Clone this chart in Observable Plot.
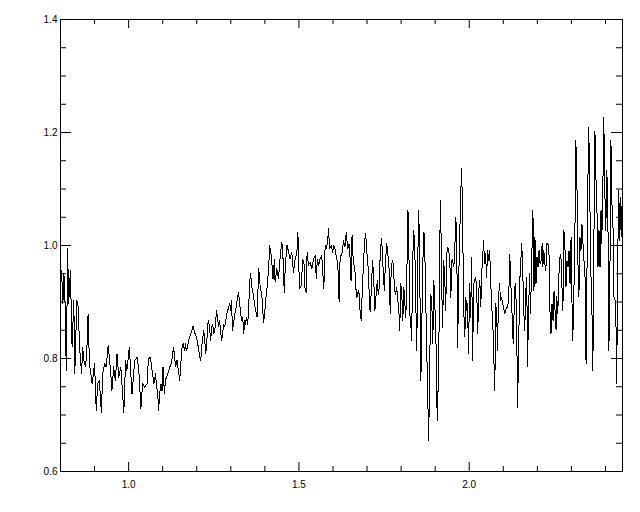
<!DOCTYPE html>
<html><head><meta charset="utf-8">
<script src="https://cdn.jsdelivr.net/npm/d3@7"></script>
<script src="https://cdn.jsdelivr.net/npm/@observablehq/plot@0.6"></script>
<style>body{margin:0;background:#fff}</style>
</head><body><div id="chart"></div>
<script>
// [wavelength, flux]
const spectrum = [
[0.800,0.930],[0.803,0.956],[0.807,0.897],[0.810,0.950],[0.813,0.909],[0.817,0.779],[0.821,0.994],[0.824,0.897],[0.829,0.956],[0.834,0.820],
[0.839,0.903],[0.842,0.773],[0.848,0.903],[0.852,0.891],[0.856,0.820],[0.862,0.773],[0.865,0.820],[0.869,0.796],[0.873,0.785],[0.877,0.808],
[0.881,0.879],[0.885,0.791],[0.889,0.773],[0.893,0.755],[0.900,0.791],[0.905,0.708],[0.909,0.755],[0.914,0.761],[0.920,0.705],[0.924,0.773],
[0.930,0.791],[0.934,0.785],[0.940,0.823],[0.947,0.779],[0.951,0.743],[0.956,0.785],[0.961,0.761],[0.966,0.808],[0.971,0.767],[0.977,0.785],
[0.986,0.705],[0.991,0.797],[0.995,0.779],[1.002,0.820],[1.010,0.737],[1.018,0.797],[1.025,0.802],[1.030,0.779],[1.036,0.711],[1.041,0.755],
[1.047,0.749],[1.054,0.755],[1.058,0.797],[1.061,0.802],
[1.064,0.802],[1.069,0.779],[1.074,0.755],[1.079,0.773],[1.082,0.749],[1.085,0.743],[1.088,0.708],[1.091,0.738],[1.095,0.755],[1.098,0.743],
[1.101,0.785],[1.105,0.738],[1.108,0.761],[1.111,0.767],[1.115,0.773],[1.118,0.779],[1.121,0.785],[1.125,0.791],[1.127,0.797],[1.132,0.820],
[1.135,0.802],[1.138,0.785],[1.142,0.797],[1.146,0.779],[1.150,0.761],[1.154,0.797],[1.157,0.820],[1.160,0.826],[1.164,0.814],[1.167,0.826],
[1.169,0.814],[1.173,0.820],[1.176,0.832],[1.179,0.838],[1.183,0.844],[1.186,0.850],[1.189,0.858],[1.192,0.850],[1.195,0.844],[1.199,0.838],
[1.203,0.826],[1.206,0.814],[1.209,0.802],[1.212,0.797],[1.214,0.820],[1.217,0.832],[1.220,0.850],[1.223,0.838],[1.226,0.808],[1.229,0.820],
[1.232,0.861],[1.235,0.867],[1.238,0.850],[1.241,0.832],[1.244,0.856],[1.247,0.861],[1.250,0.844],[1.253,0.850],[1.255,0.861],[1.258,0.885],
[1.261,0.873],[1.264,0.856],[1.267,0.867],[1.270,0.850],[1.273,0.832],[1.276,0.844],[1.279,0.861],[1.282,0.856],[1.285,0.867],[1.288,0.879],
[1.291,0.885],[1.294,0.891],[1.297,0.897],[1.300,0.885],[1.302,0.903],[1.305,0.850],[1.308,0.861],[1.312,0.879],[1.316,0.891],[1.320,0.909],
[1.323,0.917],[1.326,0.897],[1.329,0.879],[1.332,0.867],[1.335,0.873],[1.338,0.844],[1.341,0.867],[1.343,0.861],[1.346,0.873],[1.349,0.861],
[1.352,0.879],[1.355,0.932],[1.358,0.950],[1.362,0.926],[1.367,0.909],
[1.372,0.888],[1.377,0.873],[1.382,0.959],[1.386,0.929],[1.391,0.912],[1.396,0.864],[1.399,0.876],[1.403,0.906],[1.407,0.929],[1.411,0.959],
[1.414,1.000],[1.419,0.982],[1.424,0.941],[1.428,0.976],[1.430,0.935],[1.435,0.959],[1.440,0.941],[1.443,0.965],[1.446,0.988],[1.450,1.006],
[1.453,0.982],[1.457,0.917],[1.460,0.965],[1.465,1.000],[1.470,0.988],[1.474,0.976],[1.479,0.988],[1.484,0.953],[1.489,0.976],[1.494,0.988],
[1.497,1.024],[1.499,0.976],[1.502,0.923],[1.507,0.929],[1.511,0.976],[1.516,0.965],[1.518,0.923],[1.521,0.917],[1.524,0.988],[1.528,0.965],
[1.533,0.970],[1.538,0.959],[1.543,0.976],[1.548,0.982],[1.551,0.941],[1.554,0.976],[1.558,0.965],[1.562,0.976],[1.567,0.982],[1.570,0.953],
[1.573,0.923],[1.577,1.000],[1.580,0.994],[1.584,1.006],[1.587,1.030],[1.590,0.994],[1.595,1.000],[1.599,0.988],[1.602,1.000],[1.606,0.994],
[1.611,0.976],[1.614,0.970],[1.618,0.900],
[1.621,0.979],[1.626,0.985],[1.631,1.009],[1.635,0.997],[1.639,1.024],[1.643,0.994],[1.647,1.003],[1.650,0.979],[1.653,0.938],[1.656,1.018],
[1.660,0.967],[1.664,0.962],[1.667,0.926],[1.670,0.908],[1.674,0.920],[1.677,0.914],[1.680,0.879],[1.683,0.867],[1.686,0.920],[1.690,0.973],
[1.693,1.009],[1.696,1.021],[1.699,0.991],[1.703,0.962],[1.706,0.920],[1.709,0.882],[1.713,0.926],[1.716,0.973],[1.719,0.950],[1.723,0.885],
[1.726,0.908],[1.730,0.938],[1.733,0.914],[1.736,0.926],[1.738,0.973],[1.742,1.012],[1.745,0.991],[1.748,0.944],[1.751,0.920],[1.754,0.973],
[1.758,1.003],[1.761,0.985],[1.765,0.956],[1.768,0.879],[1.771,0.962],[1.775,0.973],[1.778,0.962],[1.780,0.926],[1.783,0.914],[1.787,0.926],
[1.790,0.903],[1.793,0.891],[1.796,0.850],[1.799,0.932],[1.802,0.914],[1.805,0.867],[1.808,0.926],[1.811,0.897],[1.814,0.873],[1.817,0.956],
[1.820,1.062],[1.822,1.038],[1.825,0.879],[1.828,0.867],[1.831,0.832],[1.834,0.973],[1.837,1.026],[1.840,1.003],[1.843,0.903],[1.846,0.814],
[1.849,0.979],[1.852,1.062],[1.855,0.938],[1.858,0.761],[1.861,0.867],[1.864,0.973],[1.867,1.024],[1.869,1.009],[1.872,0.914],[1.875,0.826],
[1.878,0.737],[1.881,0.655],[1.884,0.785],[1.887,0.914],[1.890,0.903],[1.893,0.826],[1.896,0.938],[1.899,0.897],
[1.903,0.814],[1.906,0.690],[1.909,0.755],[1.911,0.820],[1.913,0.991],[1.916,1.080],[1.919,0.932],[1.922,0.855],[1.925,0.973],[1.928,0.944],
[1.931,0.885],[1.934,0.985],[1.937,0.997],[1.940,0.991],[1.943,0.973],[1.946,0.908],[1.949,0.973],[1.951,0.976],[1.954,0.962],[1.957,0.973],
[1.960,1.050],[1.963,1.027],[1.966,0.820],[1.969,0.938],[1.972,1.015],[1.975,1.091],[1.978,1.136],[1.981,1.021],[1.984,0.885],[1.987,0.838],
[1.990,0.908],[1.993,0.885],[1.995,0.897],[1.998,0.808],[2.001,0.932],[2.004,0.873],[2.007,0.979],[2.010,0.796],[2.013,0.932],[2.016,0.938],
[2.019,0.944],[2.022,0.920],[2.025,0.844],[2.028,0.920],[2.031,0.938],[2.034,0.891],[2.037,0.956],[2.039,0.973],[2.042,1.009],[2.045,0.968],
[2.048,0.985],[2.051,0.944],[2.054,0.991],[2.057,0.973],[2.060,0.991],[2.063,0.938],[2.066,0.891],[2.069,0.867],[2.072,0.808],[2.075,0.743],
[2.078,0.897],[2.081,0.873],[2.083,0.814],[2.086,0.908],[2.089,0.932],[2.092,0.903],[2.095,0.908],[2.098,0.897],[2.101,0.891],[2.104,0.879],
[2.107,0.885],[2.110,0.891],[2.113,0.891],[2.116,0.908],[2.119,0.985],[2.122,0.932],[2.125,0.897],[2.127,0.844],[2.130,0.826],[2.133,0.926],
[2.136,0.932],[2.139,0.873],[2.142,0.714],[2.145,0.814],[2.148,0.932],[2.151,0.968],[2.154,1.003],[2.157,0.962],[2.160,0.885],[2.163,0.850],
[2.166,0.920],[2.169,0.944],[2.171,0.785],[2.174,0.873],[2.177,0.950],[2.180,0.879],[2.183,0.962],
[2.187,1.062],[2.190,0.920],[2.193,1.015],[2.196,0.932],[2.199,0.979],[2.202,0.962],[2.205,0.991],[2.208,0.968],[2.211,0.973],[2.214,1.003],
[2.216,0.962],[2.219,0.991],[2.222,0.968],[2.225,0.956],[2.228,1.003],[2.231,1.003],[2.234,0.991],[2.237,0.885],[2.240,0.844],[2.243,0.897],
[2.246,0.867],[2.249,0.920],[2.252,0.885],[2.255,0.850],[2.257,0.909],[2.260,0.879],[2.263,0.944],[2.266,0.979],[2.269,0.985],[2.272,0.932],
[2.275,0.885],[2.278,1.027],[2.281,0.997],[2.284,0.926],[2.287,0.973],[2.290,0.962],[2.293,0.991],[2.296,0.932],[2.299,1.015],[2.301,0.920],
[2.304,0.832],[2.307,0.909],[2.310,1.003],[2.313,1.186],[2.316,1.121],[2.319,0.973],[2.322,0.909],[2.325,1.015],[2.328,0.991],[2.331,1.038],
[2.334,1.003],[2.337,0.973],[2.340,0.944],[2.343,0.791],[2.345,0.909],[2.348,1.097],[2.351,1.209],[2.354,1.085],[2.357,0.956],[2.360,0.897],
[2.363,0.779],[2.366,1.003],[2.369,1.203],[2.372,1.121],[2.375,1.062],[2.378,0.962],[2.381,1.027],[2.384,0.962],[2.387,1.062],[2.389,1.003],
[2.392,1.085],[2.395,1.227],[2.398,1.097],[2.401,1.027],[2.404,1.133],[2.407,1.062],[2.410,0.814],[2.413,0.944],[2.416,1.186],[2.419,1.074],
[2.422,1.038],[2.425,0.909],[2.428,0.903],[2.431,0.855],[2.433,0.755],[2.436,0.979],[2.439,1.097],[2.442,1.009],[2.445,1.085],[2.448,1.015]
];
const yMajor = [0.6, 0.8, 1.0, 1.2, 1.4];
const yMinor = [0.65, 0.7, 0.75, 0.85, 0.9, 0.95, 1.05, 1.1, 1.15, 1.25, 1.3, 1.35];
const xMajor = [1.0, 1.5, 2.0];
const xMinor = [0.9, 1.1, 1.2, 1.3, 1.4, 1.6, 1.7, 1.8, 1.9, 2.1, 2.2, 2.3, 2.4];

const W = 640, H = 512, mL = 60, mR = 18, mT = 19, mB = 41;
const pw = W - mL - mR, ph = H - mT - mB;
const fmt = d3.format(".1f");

const chart = Plot.plot({
  width: W, height: H,
  marginLeft: mL, marginRight: mR, marginTop: mT, marginBottom: mB,
  style: {fontFamily: "'Liberation Sans', Arial, sans-serif", fontSize: "10px", color: "#000", background: "#fff"},
  x: {domain: [0.8, 2.45]},
  y: {domain: [0.6, 1.4]},
  marks: [
    Plot.line(spectrum, {x: d => d[0], y: d => d[1], stroke: "#000", strokeWidth: 1, clip: true, shapeRendering: "crispEdges"}),
    Plot.frame({stroke: "#000", strokeWidth: 1}),
    // inward ticks, left & right
    Plot.tickY(yMajor, {y: d => d, stroke: "#000", insetRight: pw - 11}),
    Plot.tickY(yMinor, {y: d => d, stroke: "#000", insetRight: pw - 6}),
    Plot.tickY(yMajor, {y: d => d, stroke: "#000", insetLeft: pw - 11}),
    Plot.tickY(yMinor, {y: d => d, stroke: "#000", insetLeft: pw - 6}),
    // inward ticks, bottom & top
    Plot.tickX(xMajor, {x: d => d, stroke: "#000", insetTop: ph - 9}),
    Plot.tickX(xMinor, {x: d => d, stroke: "#000", insetTop: ph - 5}),
    Plot.tickX(xMajor, {x: d => d, stroke: "#000", insetBottom: ph - 9}),
    Plot.tickX(xMinor, {x: d => d, stroke: "#000", insetBottom: ph - 5}),
    Plot.axisY({ticks: yMajor, tickSize: 0, tickPadding: 3, tickFormat: fmt, label: null}),
    Plot.axisX({ticks: xMajor, tickSize: 0, tickPadding: 9, tickFormat: fmt, label: null})
  ]
});
document.getElementById("chart").appendChild(chart);
</script>
</body></html>
